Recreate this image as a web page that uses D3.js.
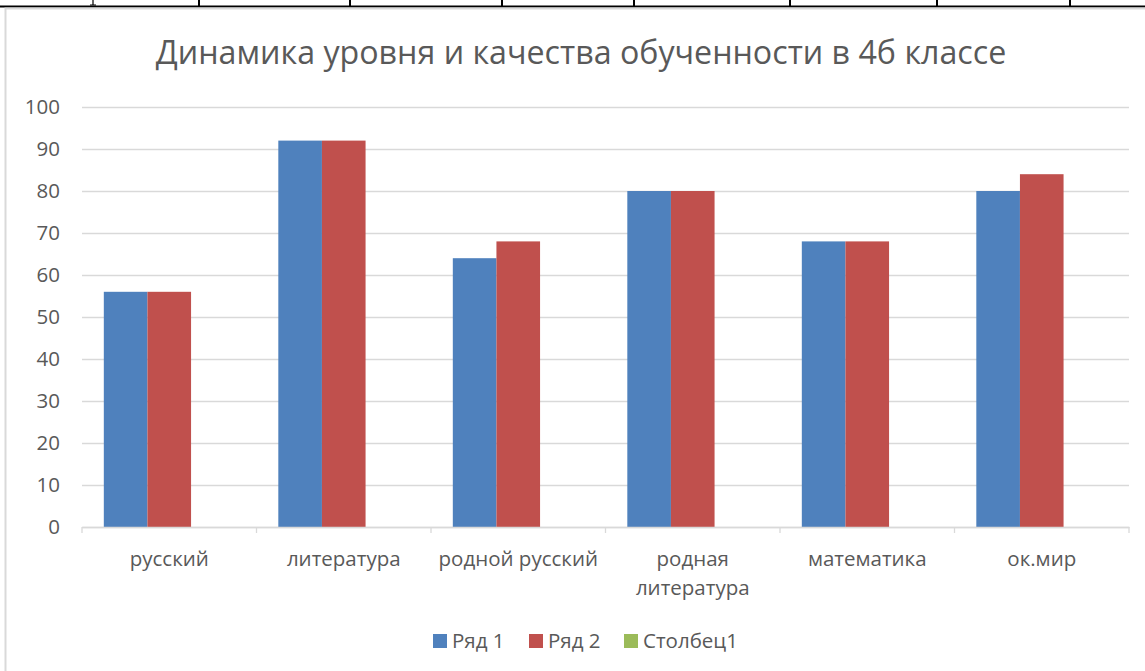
<!DOCTYPE html>
<html>
<head>
<meta charset="utf-8">
<script src="https://cdn.jsdelivr.net/npm/d3@7"></script>
<style>
  body { margin: 0; background: #fff; }
  text { font-family: "Open Sans", "Noto Sans", sans-serif; fill: #595959; }
</style>
</head>
<body>
<svg id="chart" width="1145" height="671"></svg>
<script>
const categories = ['русский', 'литература', 'родной русский', 'родная литература', 'математика', 'ок.мир'];
const series1 = [56, 92, 64, 80, 68, 80];
const series2 = [56, 92, 68, 80, 68, 84];
const series3 = [0, 0, 0, 0, 0, 0]; // Столбец1 is empty but keeps its slot
const seriesNames = ['Ряд 1', 'Ряд 2', 'Столбец1'];
const colors = ['#4f81bd', '#c0504d', '#9bbb59'];
const yTicks = [0, 10, 20, 30, 40, 50, 60, 70, 80, 90, 100];
const tableCols = [199, 350, 502, 634, 790, 937, 1070];

const svg = d3.select('#chart');
const margin = { top: 107, right: 16, bottom: 144, left: 82 };
const width = 1145 - margin.left - margin.right;
const height = 671 - margin.top - margin.bottom;

// document table strip above the chart (glyph tail sticking out of the cell above)
svg.append('path')
  .attr('d', 'M93,0V5M90,5H96')
  .attr('stroke', '#000').attr('stroke-width', 1.2).attr('fill', 'none');
svg.append('line')
  .attr('x1', 0).attr('x2', 1145).attr('y1', 6.5).attr('y2', 6.5)
  .attr('stroke', '#000').attr('stroke-width', 2);
tableCols.forEach(x => {
  svg.append('line')
    .attr('x1', x).attr('x2', x).attr('y1', 0).attr('y2', 6)
    .attr('stroke', '#000').attr('stroke-width', 2);
});

// chart frame
svg.append('rect')
  .attr('x', 5.5).attr('y', 8.5).attr('width', 1160).attr('height', 680)
  .attr('fill', '#fff').attr('stroke', '#d9d9d9').attr('stroke-width', 2);

svg.append('text')
  .attr('x', 581).attr('y', 64)
  .attr('text-anchor', 'middle')
  .style('font-size', '32.2px')
  .text('Динамика уровня и качества обученности в 4б классе');

const g = svg.append('g')
  .attr('transform', `translate(${margin.left},${margin.top})`);

const x = d3.scaleBand().domain(categories).range([0, width]);
const xInner = d3.scaleBand().domain([0, 1, 2]).range([x.bandwidth() / 8, x.bandwidth() * 7 / 8]);
const y = d3.scaleLinear().domain([0, 100]).range([height, 0]);

// gridlines and y labels
g.append('g')
  .call(d3.axisLeft(y).tickValues(yTicks).tickSize(-width).tickPadding(22))
  .call(a => a.select('.domain').remove())
  .call(a => a.selectAll('.tick line').attr('stroke', '#d9d9d9').attr('stroke-width', 1.3))
  .call(a => a.selectAll('.tick text')
    .style('font-size', '20.5px').attr('fill', '#595959'));

// bars
const rows = categories.map((c, i) => ({ cat: c, vals: [series1[i], series2[i], series3[i]] }));
const groups = g.selectAll('.grp')
  .data(rows)
  .enter()
  .append('g')
    .attr('class', 'grp')
    .attr('transform', d => `translate(${x(d.cat)},0)`);

groups.selectAll('rect')
  .data(d => d.vals.map((v, k) => ({ v, k })))
  .enter()
  .append('rect')
    .attr('x', d => xInner(d.k))
    .attr('y', d => y(d.v))
    .attr('width', xInner.bandwidth())
    .attr('height', d => height - y(d.v))
    .attr('fill', d => colors[d.k]);

// x axis
const xAxis = g.append('g')
  .attr('transform', `translate(0,${height})`)
  .call(d3.axisBottom(x).tickSize(0).tickPadding(24));
xAxis.select('.domain').attr('stroke', '#d9d9d9').attr('stroke-width', 1.3);
xAxis.selectAll('.tick text').style('font-size', '20.5px').attr('fill', '#595959');

// category boundary ticks
const bounds = categories.map(c => x(c)).concat([width]);
xAxis.selectAll('.bound')
  .data(bounds)
  .enter()
  .append('line')
    .attr('x1', d => d).attr('x2', d => d)
    .attr('y1', 0).attr('y2', 6)
    .attr('stroke', '#d9d9d9').attr('stroke-width', 1.3);

// wrap "родная литература"
xAxis.selectAll('.tick text').each(function (d) {
  if (d === 'родная литература') {
    const t = d3.select(this);
    t.text(null);
    t.append('tspan').attr('x', 0).attr('dy', '0.71em').text('родная');
    t.append('tspan').attr('x', 0).attr('dy', '1.42em').text('литература');
    t.attr('dy', null);
  }
});

// legend
const legendX = [433, 529, 624];
const legend = svg.append('g').attr('transform', 'translate(0,641)');
seriesNames.forEach((name, i) => {
  legend.append('rect')
    .attr('x', legendX[i]).attr('y', -7)
    .attr('width', 14).attr('height', 14)
    .attr('fill', colors[i]);
  legend.append('text')
    .attr('x', legendX[i] + 19).attr('y', 0)
    .attr('dy', '0.35em')
    .style('font-size', '20.5px')
    .text(name);
});
</script>
</body>
</html>
